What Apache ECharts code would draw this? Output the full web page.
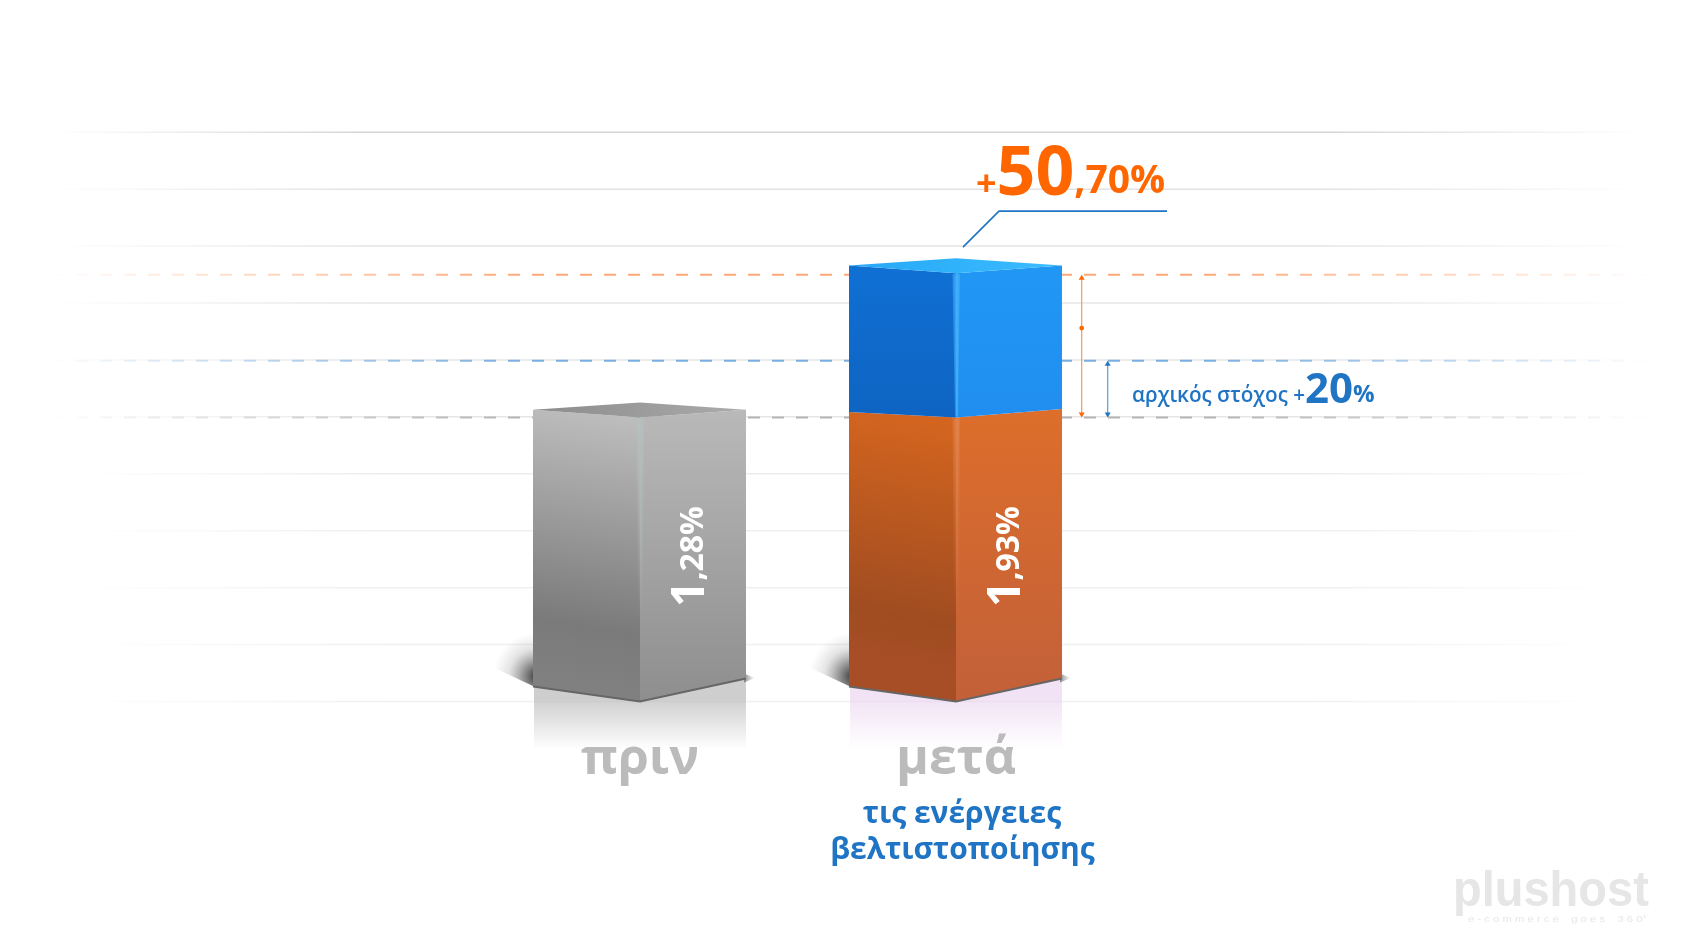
<!DOCTYPE html>
<html><head><meta charset="utf-8">
<style>html,body{margin:0;padding:0;background:#fff}#c{width:1690px;height:950px}</style>
<script src="https://cdn.jsdelivr.net/npm/echarts@6/dist/echarts.min.js"></script>
</head><body><div id="c"></div>
<script>
const categories = ['πριν', 'μετά'];
const barValues = [1.28, 1.93];
const targetLevel = 1.536;
const upperDashLevel = 1.924;
const gridLevels = [0, 0.2566, 0.5132, 0.7698, 1.0264, 1.283, 1.5396, 1.7962, 2.0528, 2.3094, 2.566];
const gridColors = ['#f0f0f0','#f0f0f0','#efefef','#efefef','#ececec','#e6e6e6','#e6e6e6','#e6e6e6','#e4e4e4','#e2e2e2','#d4d4d4'];
const dashLevels = [barValues[0], targetLevel, upperDashLevel];
const dashColors = ['#b4b4b4', '#78aee2', '#ffa877'];

const G = echarts.graphic;
const FONT = '"Open Sans", sans-serif';
const lin = (x0,y0,x1,y1,stops) => new G.LinearGradient(x0,y0,x1,y1,stops.map((c,i)=>Array.isArray(c)?{offset:c[0],color:c[1]}:{offset:i/(stops.length-1),color:c}));

const skins = [
  { left: lin(0.4,0,0,0.9,[[0,'#bdbdbd'],[0.8,'#7a7a7a'],[1,'#808080']]),
    right: lin(0,0,0,1,['#b9b9b9','#8e8e8e']),
    top: lin(0,0,1,0,['#8c8c8c','#ababab']), edge: '#b4c2c2', edgeA: 0.8, edgeEnd: 0.7 },
  { left: lin(0.4,0,0,0.85,[[0,'#d4651f'],[0.8,'#a04c21'],[1,'#a84e26']]),
    right: lin(0,0,0,1,['#dd6e2b','#c26039']),
    top: null, edge: '#e8986a', edgeA: 0.5, edgeEnd: 0.7 },
  { left: lin(0,0,0,1,['#1070d4','#0e64c2']),
    right: lin(0,0,0,1,['#2197f4','#208ef0']),
    top: lin(0,0,1,0,['#25a8f5','#3cbcff']), edge: '#4bb8ff', edgeA: 0.85, edgeEnd: 1 }
];
// segment: category index, from, to, skin
const segments = [
  [0, 0, barValues[0], 0],
  [1, 0, barValues[0], 1],
  [1, barValues[0], barValues[1], 2]
];
const reflections = [
  [0, 0, 'rgba(190,190,190,0.75)'],
  [1, 0, 'rgba(232,208,238,0.6)']
];

function frame(api, cat, val) {
  const p = api.coord([cat, val]);
  const band = api.size([1, 0])[0];
  return { F: p[0], y: p[1], L: p[0] - band * 0.3386, R: p[0] + band * 0.3354 };
}
function renderGrid(params, api) {
  const v = api.value(0), p = api.coord([0, v]);
  const i = params.dataIndex;
  const x0 = i > 5 ? 50 : 80, x1 = i > 5 ? 1640 : 1610;
  return { type: 'rect', shape: { x: x0, y: p[1] - 0.75, width: x1 - x0, height: 1.5 },
    style: { fill: lin(0,0,1,0,[[0,gridColors[i]+'00'],[0.2,gridColors[i]],[0.8,gridColors[i]],[1,gridColors[i]+'00']]) } };
}
function renderDash(params, api) {
  const p = api.coord([0, api.value(0)]), c = dashColors[params.dataIndex];
  return { type: 'line', shape: { x1: 52, y1: p[1], x2: 1650, y2: p[1] },
    style: { lineWidth: 2, lineDash: [12, 12], fill: null,
      stroke: lin(0,0,1,0,[[0,c+'00'],[0.3,c],[0.72,c],[1,c+'00']]) } };
}
function renderReflection(params, api) {
  const f = frame(api, api.value(0), api.value(1));
  const col = reflections[params.dataIndex][2];
  const fade = col.replace(/[\d.]+\)$/, '0)');
  return { type: 'group', children: [
    { type: 'rect', shape: { x: f.L + 1, y: f.y - 30, width: f.R - f.L - 1, height: 78 },
      style: { fill: lin(0,0,0,1,[[0,col],[0.35,col],[1,fade]]) } },
    { type: 'polygon', shape: { points: [[f.L + 1, f.y - 15], [f.L - 46, f.y - 37], [f.L - 46, f.y - 85], [f.L + 1, f.y - 85]] },
      style: { fill: new G.RadialGradient(f.L + 4, f.y - 25, 44, [
        { offset: 0, color: 'rgba(40,40,40,0.95)' }, { offset: 0.3, color: 'rgba(70,70,70,0.6)' },
        { offset: 0.65, color: 'rgba(120,120,120,0.2)' }, { offset: 1, color: 'rgba(140,140,140,0)' }], true) } },
    { type: 'polygon', shape: { points: [[f.R - 2, f.y - 28], [f.R + 9, f.y - 23.5], [f.R - 2, f.y - 19]] },
      style: { fill: lin(0,0,1,0,['rgba(110,110,110,0.8)','rgba(140,140,140,0)']) } }
  ] };
}
function renderCube(params, api) {
  const cat = api.value(0), from = api.value(1), to = api.value(2), s = skins[api.value(3)];
  const b = frame(api, cat, from), t = frame(api, cat, to);
  const isBase = from === 0;
  const bl = isBase ? 15 : 5.5, br = isBase ? 23 : 8.5;
  const hasTop = !!s.top;
  const tl = hasTop ? 7.8 : 5.5, tr = hasTop ? 7.8 : 8.5, back = 15;
  const edgeFade = s.edgeEnd < 1 ? [[0,s.edge],[s.edgeEnd,s.edge + '00'],[1,s.edge + '00']] : [[0,s.edge],[1,s.edge]];
  const kids = [
    { type: 'polygon', shape: { points: [[t.L, t.y - tl], [t.F, t.y], [b.F, b.y], [b.L, b.y - bl]] }, style: { fill: s.left } },
    { type: 'polygon', shape: { points: [[t.F, t.y], [t.R, t.y - tr], [b.R, b.y - br], [b.F, b.y]] }, style: { fill: s.right } },
    { type: 'polygon', shape: { points: [[t.F - 3.5, t.y + 1], [t.F + 4, t.y + 1], [t.F + 2, b.y - 1], [t.F - 1, b.y - 1]] },
      style: { fill: lin(0,0,0,1,edgeFade), opacity: s.edgeA * 0.55 } },
    { type: 'polygon', shape: { points: [[t.F - 1.5, t.y + 1], [t.F + 2.5, t.y + 1], [t.F + 1.5, b.y - 1], [t.F, b.y - 1]] },
      style: { fill: lin(0,0,0,1,edgeFade), opacity: s.edgeA * 0.6 } }
  ];
  if (hasTop) kids.push({ type: 'polygon', shape: { points: [[t.L, t.y - tl], [t.F, t.y - back], [t.R, t.y - tr], [t.F, t.y]] }, style: { fill: s.top } });
  if (isBase) kids.push({ type: 'polyline', shape: { points: [[b.L, b.y - bl], [b.F, b.y], [b.R, b.y - br]] },
    style: { stroke: '#666', lineWidth: 2, fill: null } });
  return { type: 'group', children: kids };
}
function arrow(x, yTop, yBot, stroke, head) {
  return [
    { type: 'line', shape: { x1: x, y1: yTop + 3, x2: x, y2: yBot - 3 }, style: { stroke, lineWidth: 1.2 } },
    { type: 'polygon', shape: { points: [[x, yTop], [x + 3, yTop + 5], [x - 3, yTop + 5]] }, style: { fill: head } },
    { type: 'polygon', shape: { points: [[x, yBot], [x + 3, yBot - 5], [x - 3, yBot - 5]] }, style: { fill: head } }
  ];
}
function renderNotes(params, api) {
  const F = api.coord([1, 0])[0];
  const yBase = api.coord([1, barValues[0]])[1], yTop = api.coord([1, upperDashLevel])[1], yTarget = api.coord([1, targetLevel])[1];
  const kids = [].concat(
    arrow(F + 125.7, yTop, yBase, '#f29a68', '#ff6600'),
    arrow(F + 151.7, yTarget, yBase, '#5a9bd8', '#1f74c4'),
    [
      { type: 'circle', shape: { cx: F + 125.7, cy: (yTop + yBase) / 2 - 18, r: 2.4 }, style: { fill: '#ff6600' } },
      { type: 'polyline', shape: { points: [[F + 7, yTop - 27.5], [F + 43, yTop - 63.5], [F + 211, yTop - 63.5]] },
        style: { stroke: '#1f74c4', lineWidth: 1.6, fill: null } }
    ]
  );
  return { type: 'group', children: kids };
}
function renderValueLabels(params, api) {
  const cat = api.value(0), p = api.coord([cat, 0]);
  const str = api.value(1).toFixed(2).replace('.', ',');
  const whole = str.slice(0, 1), rest = str.slice(1);
  return { type: 'text', x: p[0] + 74, y: 556.5, rotation: Math.PI / 2,
    style: { text: '{a|' + whole + '}{b|' + rest + '%}', align: 'center', verticalAlign: 'bottom',
      rich: { a: { fontFamily: FONT, fontWeight: 700, fontSize: 46, fill: '#fff', verticalAlign: 'bottom' },
              b: { fontFamily: FONT, fontWeight: 700, fontSize: 32, fill: '#fff', verticalAlign: 'bottom', padding: [0,0,4,0] } } } };
}

const chart = echarts.init(document.getElementById('c'), null, { renderer: 'canvas' });
chart.setOption({
  animation: false,
  backgroundColor: '#ffffff',
  grid: { left: 482, width: 632, top: 132.2, height: 569.3 },
  xAxis: { type: 'category', data: categories, z: 10,
    axisLine: { show: false }, axisTick: { show: false }, splitLine: { show: false },
    axisLabel: { margin: 33, color: '#bbbbbb', fontFamily: FONT, fontWeight: 700, fontSize: 50, interval: 0 } },
  yAxis: { type: 'value', min: 0, max: 2.566, show: false, splitLine: { show: false } },
  series: [
    { type: 'custom', z: 1, silent: true, clip: false, data: gridLevels.map(v => [v]), encode: { y: 0 }, renderItem: renderGrid },
    { type: 'custom', z: 2, silent: true, clip: false, data: dashLevels.map(v => [v]), encode: { y: 0 }, renderItem: renderDash },
    { type: 'custom', z: 3, silent: true, clip: false, data: reflections, encode: { x: 0, y: 1 }, renderItem: renderReflection },
    { type: 'custom', z: 4, silent: true, clip: false, data: segments, encode: { x: 0, y: [1, 2] }, renderItem: renderCube },
    { type: 'custom', z: 5, silent: true, clip: false, data: [[1, barValues[1]]], encode: { x: 0, y: 1 }, renderItem: renderNotes },
    { type: 'custom', z: 6, silent: true, clip: false, data: barValues.map((v, i) => [i, v]), encode: { x: 0, y: 1 }, renderItem: renderValueLabels }
  ],
  graphic: [
    { type: 'text', left: 976, top: 141.5, z: 20, style: { text: '{p|+}{d|50}{r|,70%}',
      rich: { p: { fontFamily: FONT, fontWeight: 700, fontSize: 36, fill: '#ff6600', verticalAlign: 'bottom', padding: [0,0,6,0] },
              d: { fontFamily: FONT, fontWeight: 700, fontSize: 68, fill: '#ff6600', verticalAlign: 'bottom' },
              r: { fontFamily: FONT, fontWeight: 700, fontSize: 39, fill: '#ff6600', verticalAlign: 'bottom', padding: [0,0,8,0] } } } },
    { type: 'text', left: 1132, top: 370, z: 20, style: { text: '{a|αρχικός στόχος +}{d|20}{r|%}',
      rich: { a: { fontFamily: FONT, fontWeight: 600, fontSize: 20.7, fill: '#1f74c4', verticalAlign: 'bottom', padding: [0,0,5,0] },
              d: { fontFamily: FONT, fontWeight: 700, fontSize: 42, fill: '#1f74c4', verticalAlign: 'bottom' },
              r: { fontFamily: FONT, fontWeight: 700, fontSize: 24, fill: '#1f74c4', verticalAlign: 'bottom', padding: [0,0,5,0] } } } },
    { type: 'text', x: 962, y: 814, z: 20, style: { text: 'τις ενέργειες', align: 'center', verticalAlign: 'middle', fontFamily: FONT, fontWeight: 700, fontSize: 30, fill: '#1f74c4' } },
    { type: 'text', x: 962.5, y: 850, z: 20, style: { text: 'βελτιστοποίησης', align: 'center', verticalAlign: 'middle', fontFamily: FONT, fontWeight: 700, fontSize: 30, fill: '#1f74c4' } },
    { type: 'text', x: 1453, y: 892, scaleX: 0.94, z: 20, style: { text: 'plushost', align: 'left', verticalAlign: 'middle', fontFamily: '"Liberation Sans", sans-serif', fontWeight: 700, fontSize: 50, fill: '#e6e6e6' } },
    { type: 'text', x: 1468, y: 920, scaleX: 1.25, z: 20, style: { text: 'e - c o m m e r c e    g o e s    3 6 0°', align: 'left', verticalAlign: 'middle', fontFamily: '"Liberation Sans", sans-serif', fontSize: 9, fill: '#e6e6e6' } }
  ]
});
</script></body></html>
